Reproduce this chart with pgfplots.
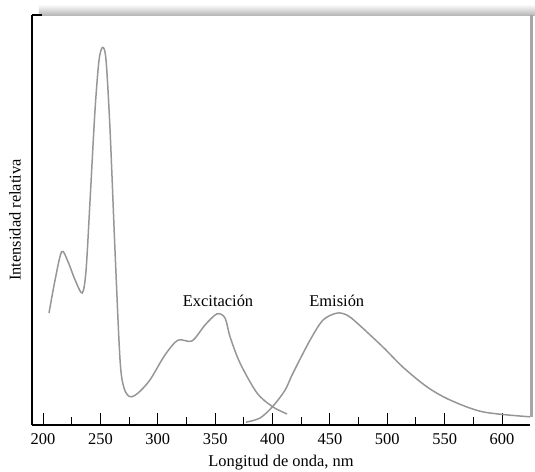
\documentclass[border=0pt]{standalone}
\usepackage{fontspec}
\setmainfont{Liberation Serif}
\usepackage{pgfplots}
\pgfplotsset{compat=1.18}
\definecolor{curve}{RGB}{150,150,150}

\begin{document}
\begin{tikzpicture}
\begin{axis}[
    scale only axis,
    width=498bp, height=410bp,
    xmin=190.4, xmax=624.4,
    ymin=0, ymax=100,
    axis x line*=bottom,
    axis y line*=left,
    axis line style={black, line width=1.2pt, -},
    xtick={200,250,...,600},
    minor x tick num=1,
    ytick=\empty,
    tick align=inside,
    major tick length=12bp,
    minor tick length=8bp,
    tick style={black, line width=1pt},
    font=\fontsize{16.5}{19}\selectfont,
    /pgf/number format/assume math mode=true,
    xticklabel style={font=\fontsize{16.5}{19}\selectfont, yshift=-5bp},
    xlabel={Longitud de onda, nm},
    ylabel={Intensidad relativa},
    xlabel style={font=\fontsize{16.5}{19}\selectfont, at={(rel axis cs:0.5,-0.0927)}, anchor=center},
    ylabel style={font=\fontsize{16.5}{19}\selectfont, at={(rel axis cs:-0.034,0.5)}, anchor=center},
    clip=false,
]
% espectro de excitacion
\addplot[curve, line width=1.5pt, smooth, tension=0.5] coordinates {
 (205.2,27.3) (210.5,35.4) (216.3,42.3) (221.8,39.8) (227.9,35.4)
 (234.2,32.2) (237.5,37.8) (241,54.9) (245.3,76.8) (248.8,89)
 (252,92.1) (254.9,89) (258.4,72) (262.7,42.7) (267.1,15.9)
 (270.6,9) (275.8,6.9) (282.8,7.8) (293.2,11) (306.3,17.1)
 (317.6,20.7) (329.8,20.5) (341.2,24.4) (351.6,27.1) (358.6,26.1)
 (363,21.5) (371.7,15.1) (386.5,7.8) (400.4,4.4) (412.6,2.7)
};
% espectro de emision
\addplot[curve, line width=1.5pt, smooth, tension=0.5] coordinates {
 (376.9,0.7) (389.1,1.7) (400.4,4.6) (410.9,8.5) (417.9,12.7)
 (432.7,20.7) (444,25.6) (456.2,27.3) (464.9,26.8) (473.6,24.9)
 (496.3,19) (513.7,14.1) (534.6,9.3) (554.7,6.1) (583.4,3.2) (624.4,2)
};
\node[anchor=base] at (axis cs:352.5,29) {Excitación};
\node[anchor=base] at (axis cs:456,29) {Emisión};
% marco gris superior y derecho
\fill[top color=gray!5, bottom color=gray!55] (rel axis cs:0.014,1) rectangle (rel axis cs:1.01,1.024);
\draw[gray!70, line width=2.5pt] (rel axis cs:1.003,1) -- (rel axis cs:1.003,0.02);
\draw[black, line width=1.2pt] (rel axis cs:0,1) -- (rel axis cs:0.02,1);
\coordinate (bl) at (rel axis cs:-0.0643,-0.1146);
\coordinate (tr) at (rel axis cs:1.01,1.0366);
\end{axis}
\pgfresetboundingbox
\useasboundingbox (bl) rectangle (tr);
\end{tikzpicture}
\end{document}
